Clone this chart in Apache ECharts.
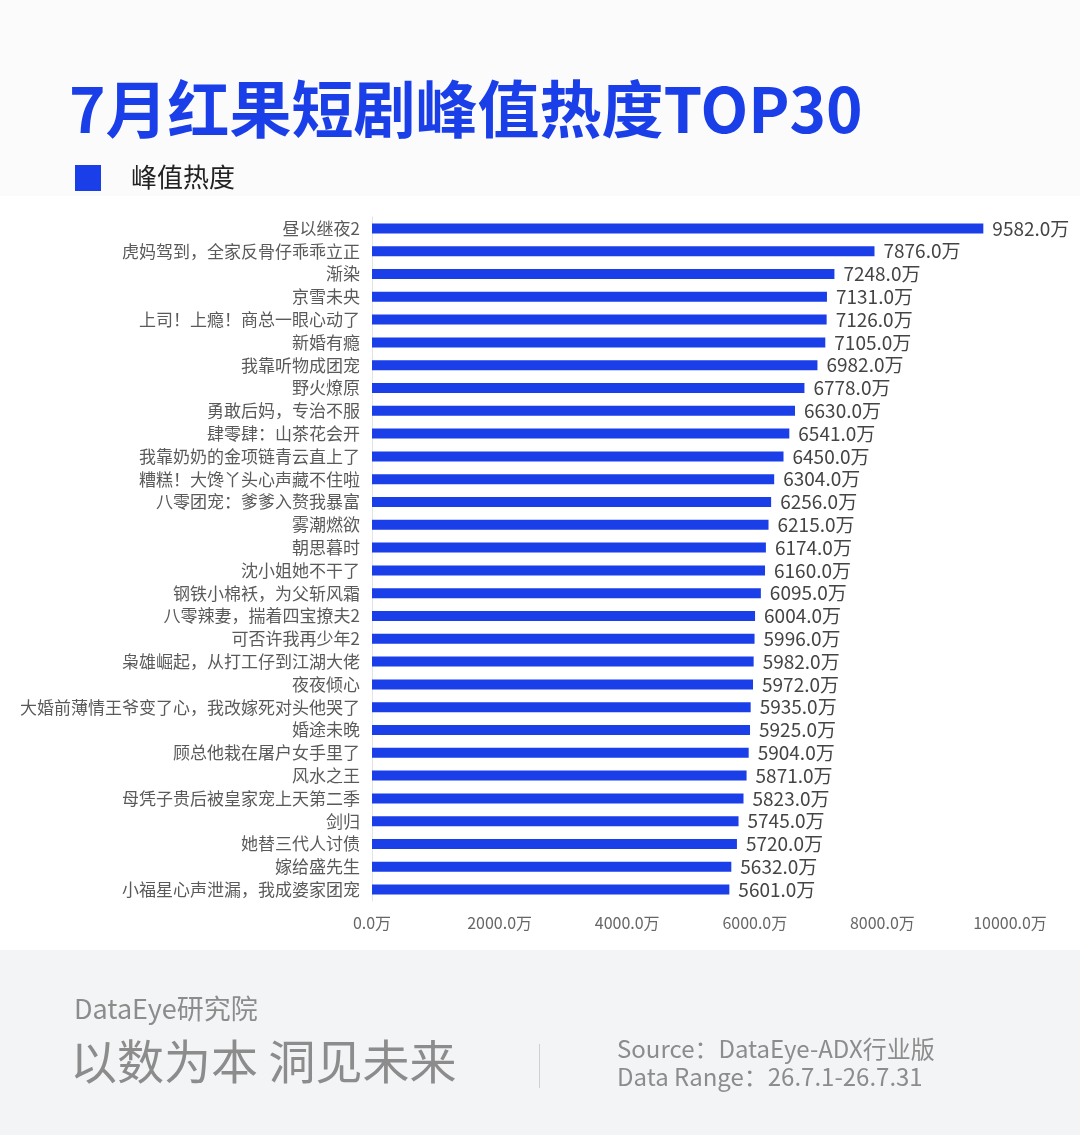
<!DOCTYPE html>
<html lang="zh">
<head>
<meta charset="utf-8" />
<title>7月红果短剧峰值热度TOP30</title>
<style>
  html, body { margin: 0; padding: 0; background: #fbfbfb; }
  #main { width: 1080px; height: 1135px; }
</style>
<script src="https://cdn.jsdelivr.net/npm/echarts@6/dist/echarts.min.js"></script>
</head>
<body>
<div id="main"></div>
<script>
// 剧名（从上到下）
const dramas = [
  '昼以继夜2', '虎妈驾到，全家反骨仔乖乖立正', '渐染', '京雪未央', '上司！上瘾！商总一眼心动了',
  '新婚有瘾', '我靠听物成团宠', '野火燎原', '勇敢后妈，专治不服', '肆零肆：山茶花会开',
  '我靠奶奶的金项链青云直上了', '糟糕！大馋丫头心声藏不住啦', '八零团宠：爹爹入赘我暴富', '雾潮燃欲', '朝思暮时',
  '沈小姐她不干了', '钢铁小棉袄，为父斩风霜', '八零辣妻，揣着四宝撩夫2', '可否许我再少年2', '枭雄崛起，从打工仔到江湖大佬',
  '夜夜倾心', '大婚前薄情王爷变了心，我改嫁死对头他哭了', '婚途未晚', '顾总他栽在屠户女手里了', '风水之王',
  '母凭子贵后被皇家宠上天第二季', '剑归', '她替三代人讨债', '嫁给盛先生', '小福星心声泄漏，我成婆家团宠'
];
// 峰值热度（万）
const heat = [
  9582, 7876, 7248, 7131, 7126,
  7105, 6982, 6778, 6630, 6541,
  6450, 6304, 6256, 6215, 6174,
  6160, 6095, 6004, 5996, 5982,
  5972, 5935, 5925, 5904, 5871,
  5823, 5745, 5720, 5632, 5601
];
const xTicks = [0, 2000, 4000, 6000, 8000, 10000];

const blue = '#1a3ee8';
const cjk = '"Noto Sans CJK SC", "Noto Sans", sans-serif';

const chart = echarts.init(document.getElementById('main'));
chart.setOption({
  backgroundColor: '#fbfbfb',
  textStyle: { fontFamily: cjk },
  graphic: [
    // 图表白底
    { type: 'rect', z: -10, shape: { x: 0, y: 196, width: 1080, height: 754 }, style: { fill: '#ffffff' } },
    // 页脚
    { type: 'rect', z: -10, shape: { x: 0, y: 950, width: 1080, height: 185 }, style: { fill: '#f3f4f6' } },
    { type: 'text', left: 69, top: 78, style: { text: '7月红果短剧峰值热度TOP30', fill: blue, font: 'bold 62px ' + cjk } },
    { type: 'rect', shape: { x: 75, y: 165, width: 26, height: 26 }, style: { fill: blue } },
    { type: 'text', left: 131, top: 164, style: { text: '峰值热度', fill: '#222', font: '26px ' + cjk } },
    { type: 'text', left: 74, top: 995, style: { text: 'DataEye研究院', fill: '#8c8c8c', font: '27px ' + cjk } },
    { type: 'text', left: 70, top: 1038, style: { text: '以数为本 洞见未来', fill: '#8c8c8c', font: '47px ' + cjk } },
    { type: 'rect', shape: { x: 539, y: 1044, width: 1, height: 44 }, style: { fill: '#d0d0d0' } },
    { type: 'text', left: 617, top: 1037, style: { text: 'Source：DataEye-ADX行业版', fill: '#8c8c8c', font: '24px ' + cjk } },
    { type: 'text', left: 617, top: 1065, style: { text: 'Data Range：26.7.1-26.7.31', fill: '#8c8c8c', font: '24px ' + cjk } }
  ],
  grid: { left: 372, right: 70, top: 217, height: 684, containLabel: false },
  xAxis: {
    type: 'value',
    min: 0,
    max: 10000,
    interval: 2000,
    splitLine: { show: false },
    axisLine: { show: false },
    axisTick: { show: false },
    axisLabel: {
      color: '#666',
      fontSize: 16,
      margin: 14,
      customValues: xTicks,
      formatter: v => v.toFixed(1) + '万'
    }
  },
  yAxis: {
    type: 'category',
    inverse: true,
    data: dramas,
    axisLine: { show: true, lineStyle: { color: '#e3e3e3' } },
    axisTick: { show: false },
    axisLabel: { color: '#5a5a5a', fontSize: 17, margin: 12 }
  },
  series: [{
    name: '峰值热度',
    type: 'bar',
    data: heat,
    barWidth: 10,
    itemStyle: { color: blue },
    label: {
      show: true,
      position: 'right',
      distance: 9,
      color: '#444',
      fontSize: 19,
      formatter: p => p.value.toFixed(1) + '万'
    }
  }]
});
</script>
</body>
</html>
